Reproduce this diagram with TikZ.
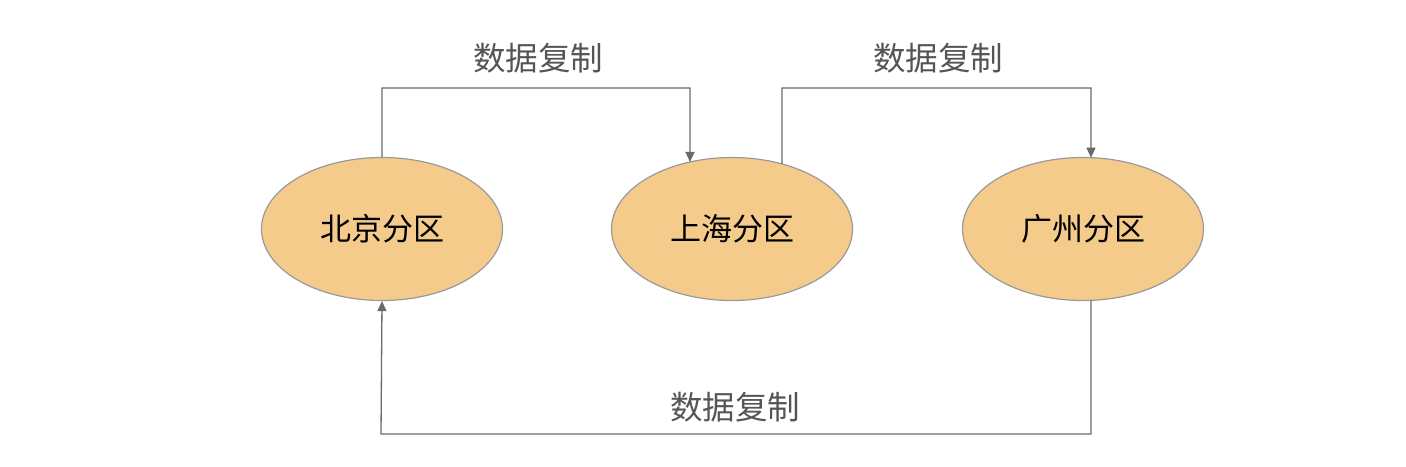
\documentclass[tikz,border=0pt]{standalone}
\usepackage{fontspec}
\newfontfamily\cjk{Noto Sans CJK SC}
\usetikzlibrary{shapes.geometric,arrows.meta,intersections}
\definecolor{fillor}{HTML}{F5CB8C}
\definecolor{edgegray}{HTML}{9A9A9A}
\definecolor{linegray}{HTML}{6A6A6A}
\definecolor{labgray}{HTML}{555555}
\tikzset{
  part/.style={ellipse, draw=edgegray, line width=1.2pt, fill=fillor, minimum width=241pt, minimum height=143pt, inner sep=0pt, font=\cjk\fontsize{31pt}{31pt}\selectfont, text=black},
  conn/.style={draw=linegray, line width=1.3pt, -{Triangle[width=9pt,length=10pt]}},
  lab/.style={font=\cjk\fontsize{32.5pt}{32.5pt}\selectfont, text=labgray, inner sep=0pt}
}
\begin{document}
\begin{tikzpicture}[x=1pt,y=-1pt]
\useasboundingbox (0,0) rectangle (1406,466);
\node[part, name path=bjp] (bj) at (382,229) {北京分区};
\node[part, name path=shp] (sh) at (732,229) {上海分区};
\node[part, name path=gzp] (gz) at (1083,229) {广州分区};
\coordinate (t1) at (382,88);
\coordinate (t2) at (690,88);
\coordinate (t3) at (782,88);
\coordinate (t4) at (1091,88);
\coordinate (b1) at (1091,434);
\coordinate (b2) at (381,434);
\path[name path=v2] (690,60) -- (690,229);
\path[name path=v3] (782,60) -- (782,229);
\path[name path=v4] (1091,60) -- (1091,229);
\path[name path=v5] (1091,229) -- (1091,460);
\path[name intersections={of=v2 and shp, by=e2}];
\path[name intersections={of=v3 and shp, by=s3}];
\path[name intersections={of=v4 and gzp, by=e4}];
\path[name intersections={of=v5 and gzp, by=s5}];
\draw[conn] (bj.north) -- (t1) -- (t2) -- (e2);
\draw[conn] (s3) -- (t3) -- (t4) -- (e4);
\draw[conn] (s5) -- (b1) -- (b2) -- (bj.south);
\node[lab] (l1) at (538,58) {数据复制};
\node[lab] (l2) at (938,58) {数据复制};
\node[lab] (l3) at (735,407) {数据复制};
\end{tikzpicture}
\end{document}
